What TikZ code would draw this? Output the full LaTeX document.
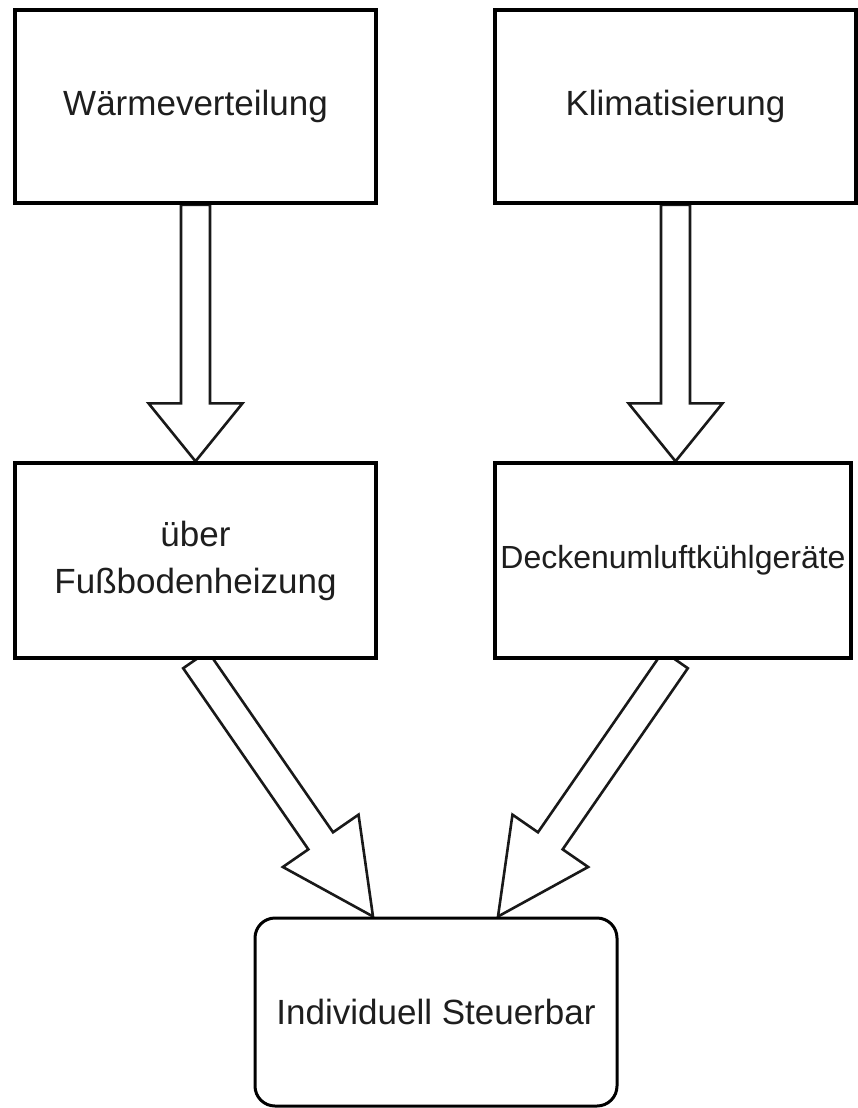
\documentclass[tikz,border=0pt]{standalone}
\usepackage{fontspec}
\setmainfont{Liberation Sans}
\usetikzlibrary{calc,backgrounds}

\definecolor{txtcol}{HTML}{1E1E1E}

\tikzset{
	box/.style={draw=black, line width=3.4pt, fill=white, text=txtcol, align=center,
		font=\fontsize{35}{47}\selectfont, inner sep=0pt},
	fatline/.style={draw=black!90, line width=2.6pt, fill=white, line join=miter}
}

% from, to, head length, head half width, shaft half width
\newcommand{\fatarrow}[5]{%
	\coordinate (fa-h) at ($(#2)!#3!(#1)$);
	\draw[fatline] ($(#1)!#5!90:(#2)$) -- ($(fa-h)!#5!90:(#2)$) -- ($(fa-h)!#4!90:(#2)$)
		-- (#2) -- ($(fa-h)!#4!-90:(#2)$) -- ($(fa-h)!#5!-90:(#2)$) -- ($(#1)!#5!-90:(#2)$) -- cycle;
}

\begin{document}
\begin{tikzpicture}[x=1pt, y=-1pt]
		\useasboundingbox (0,0) rectangle (857,1108);

		\begin{scope}[every node/.style={box}]
			\node[minimum width=361pt, minimum height=193pt] (waerme) at (195.5,106.5) {Wärmeverteilung};
			\node[minimum width=361pt, minimum height=193pt] (klima) at (675.5,106.5) {Klimatisierung};
			\node[minimum width=361pt, minimum height=195pt] (fussboden) at (195.5,560.5) {über\\Fußbodenheizung};
			\node[minimum width=356pt, minimum height=195pt, font=\fontsize{32}{40}\selectfont] (decke) at (673,560.5) {Deckenumluftkühlgeräte};
			\node[minimum width=362pt, minimum height=188pt, rounded corners=20pt, line width=3pt] (steuer) at (436,1012) {Individuell Steuerbar};
		\end{scope}

		\coordinate (deckein) at (klima.south |- decke.north);
		\coordinate (deckeout) at (klima.south |- decke.south);
		\coordinate (in1) at ([xshift=-63pt]steuer.north);
		\coordinate (in2) at ([xshift=62pt]steuer.north);

		\begin{scope}[on background layer]
			\fatarrow{waerme.south}{fussboden.north}{58pt}{47pt}{14.5pt}
			\fatarrow{klima.south}{deckein}{58pt}{47pt}{14.5pt}
			\fatarrow{fussboden.south}{in1}{92pt}{46pt}{15pt}
			\fatarrow{deckeout}{in2}{92pt}{46pt}{15pt}
		\end{scope}

	\end{tikzpicture}
\end{document}
